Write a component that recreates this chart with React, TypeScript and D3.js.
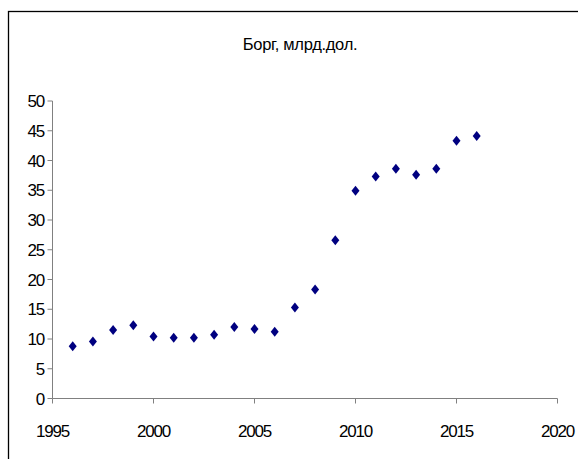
import React from "react";
import * as d3 from "d3";

const years = [1996, 1997, 1998, 1999, 2000, 2001, 2002, 2003, 2004, 2005, 2006, 2007, 2008, 2009, 2010, 2011, 2012, 2013, 2014, 2015, 2016];
const debt = [8.8, 9.6, 11.5, 12.3, 10.4, 10.2, 10.2, 10.7, 12.0, 11.7, 11.2, 15.3, 18.3, 26.6, 34.9, 37.3, 38.6, 37.6, 38.6, 43.3, 44.1];
const xTicks = [1995, 2000, 2005, 2010, 2015, 2020];
const yTicks = [0, 5, 10, 15, 20, 25, 30, 35, 40, 45, 50];
const title = "Борг, млрд.дол.";

export default function App() {
  const W = 578, H = 459;
  const x = d3.scaleLinear().domain([1995, 2020]).range([52.5, 557.5]);
  const y = d3.scaleLinear().domain([0, 50]).range([398.5, 101]);
  const axisColor = "#808080";
  const font = "'Liberation Sans', Arial, sans-serif";
  const diamond = (cx: number, cy: number) => `M${cx},${cy - 5}L${cx + 4},${cy}L${cx},${cy + 5}L${cx - 4},${cy}Z`;
  return (
    <svg width={W} height={H} style={{ position: "absolute", left: 0, top: 0, background: "#fff" }}>
      <rect x={8.5} y={11.5} width={700} height={700} fill="#fff" stroke="#000" strokeWidth={1.3} />
      <text x={300} y={50} textAnchor="middle" fontFamily={font} fontSize={16.5} letterSpacing={-0.3} fill="#000">{title}</text>
      {/* y axis */}
      <line x1={x(1995)} x2={x(1995)} y1={y(50)} y2={y(0)} stroke={axisColor} strokeWidth={1} />
      {yTicks.map((t) => (
        <g key={"y" + t}>
          <line x1={x(1995) - 5} x2={x(1995)} y1={y(t)} y2={y(t)} stroke={axisColor} />
          <text x={44} y={y(t)} dy="0.36em" textAnchor="end" fontFamily={font} fontSize={17} letterSpacing={-1.2} fill="#000">{t}</text>
        </g>
      ))}
      {/* x axis */}
      <line x1={x(1995)} x2={x(2020)} y1={y(0)} y2={y(0)} stroke={axisColor} strokeWidth={1} />
      {xTicks.map((t) => (
        <g key={"x" + t}>
          <line x1={x(t)} x2={x(t)} y1={y(0)} y2={y(0) + 5} stroke={axisColor} />
          <text x={x(t)} y={437} textAnchor="middle" fontFamily={font} fontSize={17} letterSpacing={-1.2} fill="#000">{t}</text>
        </g>
      ))}
      {years.map((yr, i) => (
        <path key={yr} d={diamond(x(yr), y(debt[i]))} fill="#000080" />
      ))}
    </svg>
  );
}
